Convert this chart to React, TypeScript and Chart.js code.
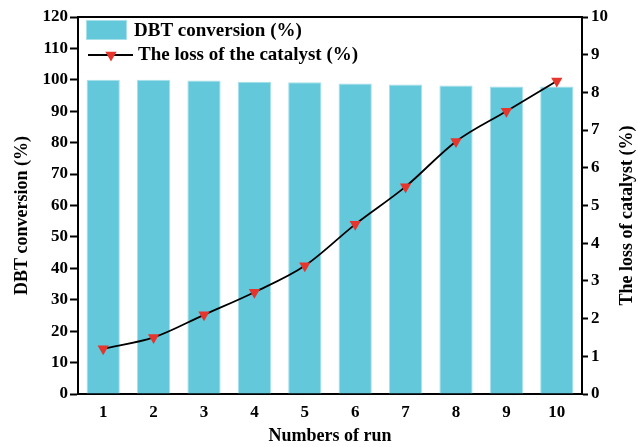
import React, { useEffect, useRef } from 'react';
import { Chart, registerables } from 'chart.js';

Chart.register(...registerables);

const runs = ['1', '2', '3', '4', '5', '6', '7', '8', '9', '10'];
const conversion = [100, 100, 99.8, 99.4, 99.2, 98.8, 98.5, 98.2, 97.9, 97.9];
const loss = [1.2, 1.5, 2.1, 2.7, 3.4, 4.5, 5.5, 6.7, 7.5, 8.3];

const barLabel = 'DBT conversion (%)';
const lineLabel = 'The loss of the catalyst (%)';
const xTitle = 'Numbers of run';
const leftTitle = 'DBT conversion (%)';
const rightTitle = 'The loss of catalyst (%)';

const FONT = "'Liberation Serif', 'Times New Roman', serif";
const BAR_COLOR = '#62C8DA';
const BAR_EDGE = '#A8E0EA';
const MARK_COLOR = '#E5352C';

function tri(ctx: CanvasRenderingContext2D, x: number, y: number, r: number) {
  ctx.beginPath();
  ctx.moveTo(x, y + r);
  ctx.lineTo(x - r * 0.866, y - r * 0.5);
  ctx.lineTo(x + r * 0.866, y - r * 0.5);
  ctx.closePath();
  ctx.fill();
}

export default function App() {
  const ref = useRef<HTMLCanvasElement>(null);

  useEffect(() => {
    if (!ref.current) return;
    const overlay = {
      id: 'overlay',
      afterDraw(chart: any) {
        const ctx: CanvasRenderingContext2D = chart.ctx;
        const a = chart.chartArea;
        ctx.save();
        // top frame line
        ctx.strokeStyle = '#000';
        ctx.lineWidth = 2;
        ctx.beginPath();
        ctx.moveTo(a.left, a.top);
        ctx.lineTo(a.right + 1, a.top);
        ctx.stroke();

        // legend
        ctx.fillStyle = BAR_COLOR;
        ctx.fillRect(a.left + 8, a.top + 3, 41, 20);
        ctx.strokeStyle = BAR_EDGE;
        ctx.lineWidth = 1;
        ctx.strokeRect(a.left + 8.5, a.top + 3.5, 40, 19);

        ctx.fillStyle = '#000';
        ctx.font = `bold 19px ${FONT}`;
        ctx.textAlign = 'left';
        ctx.textBaseline = 'middle';
        ctx.fillText(barLabel, a.left + 56, a.top + 14);

        ctx.strokeStyle = '#000';
        ctx.lineWidth = 1.8;
        ctx.beginPath();
        ctx.moveTo(a.left + 10, a.top + 38);
        ctx.lineTo(a.left + 55, a.top + 38);
        ctx.stroke();
        ctx.fillStyle = MARK_COLOR;
        tri(ctx, a.left + 33, a.top + 38, 6.5);
        ctx.fillStyle = '#000';
        ctx.fillText(lineLabel, a.left + 60, a.top + 38);

        // y titles
        ctx.font = `bold 18px ${FONT}`;
        const cy = (a.top + a.bottom) / 2 + 10;
        ctx.textAlign = 'center';
        ctx.save();
        ctx.translate(22, cy);
        ctx.rotate(-Math.PI / 2);
        ctx.fillText(leftTitle, 0, 0);
        ctx.restore();
        ctx.save();
        ctx.translate(627, cy);
        ctx.rotate(-Math.PI / 2);
        ctx.fillText(rightTitle, 0, 0);
        ctx.restore();
        ctx.restore();
      },
    };

    const tickFont = { family: FONT, size: 17, weight: 'bold' as const };

    const chart = new Chart(ref.current, {
      type: 'bar',
      data: {
        labels: runs,
        datasets: [
          {
            type: 'line',
            label: lineLabel,
            data: loss,
            yAxisID: 'y1',
            borderColor: '#000',
            borderWidth: 1.8,
            cubicInterpolationMode: 'monotone',
            pointStyle: 'triangle',
            rotation: 180,
            pointRadius: 6.5,
            pointBackgroundColor: MARK_COLOR,
            pointBorderColor: MARK_COLOR,
            pointBorderWidth: 0,
          } as any,
          {
            type: 'bar',
            label: barLabel,
            data: conversion,
            yAxisID: 'y',
            backgroundColor: BAR_COLOR,
            borderColor: BAR_EDGE,
            borderWidth: 1,
            categoryPercentage: 1,
            barPercentage: 0.66,
          } as any,
        ],
      },
      options: {
        responsive: false,
        animation: false,
        layout: { padding: { top: 17, left: 0, right: 0, bottom: 0 } },
        plugins: { legend: { display: false }, tooltip: { enabled: false } },
        scales: {
          x: {
            z: 1,
            grid: { display: false, drawTicks: false },
            border: { display: true, color: '#000', width: 2 },
            ticks: { font: tickFont, color: '#000', padding: 8, maxRotation: 0 },
            title: {
              display: true,
              text: xTitle,
              color: '#000',
              font: { family: FONT, size: 18, weight: 'bold' },
              padding: 0,
            },
            afterFit: (s: any) => {
              s.height = 53;
            },
          },
          y: {
            position: 'left',
            min: 0,
            max: 120,
            ticks: { stepSize: 10, font: tickFont, color: '#000', padding: 2 },
            grid: { drawOnChartArea: false, tickLength: 8, tickWidth: 2, tickColor: '#000' },
            border: { display: true, color: '#000', width: 2 },
            afterFit: (s: any) => {
              s.width = 78;
            },
          },
          y1: {
            position: 'right',
            min: 0,
            max: 10,
            ticks: { stepSize: 1, font: tickFont, color: '#000', padding: 3 },
            grid: { drawOnChartArea: false, tickLength: 6, tickWidth: 2, tickColor: '#000' },
            border: { display: true, color: '#000', width: 2 },
            afterFit: (s: any) => {
              s.width = 56;
            },
          },
        },
      } as any,
      plugins: [overlay],
    });
    return () => chart.destroy();
  }, []);

  return (
    <div style={{ position: 'fixed', left: 0, top: 0, width: 638, height: 447, background: '#fff' }}>
      <canvas ref={ref} width={638} height={447} />
    </div>
  );
}
